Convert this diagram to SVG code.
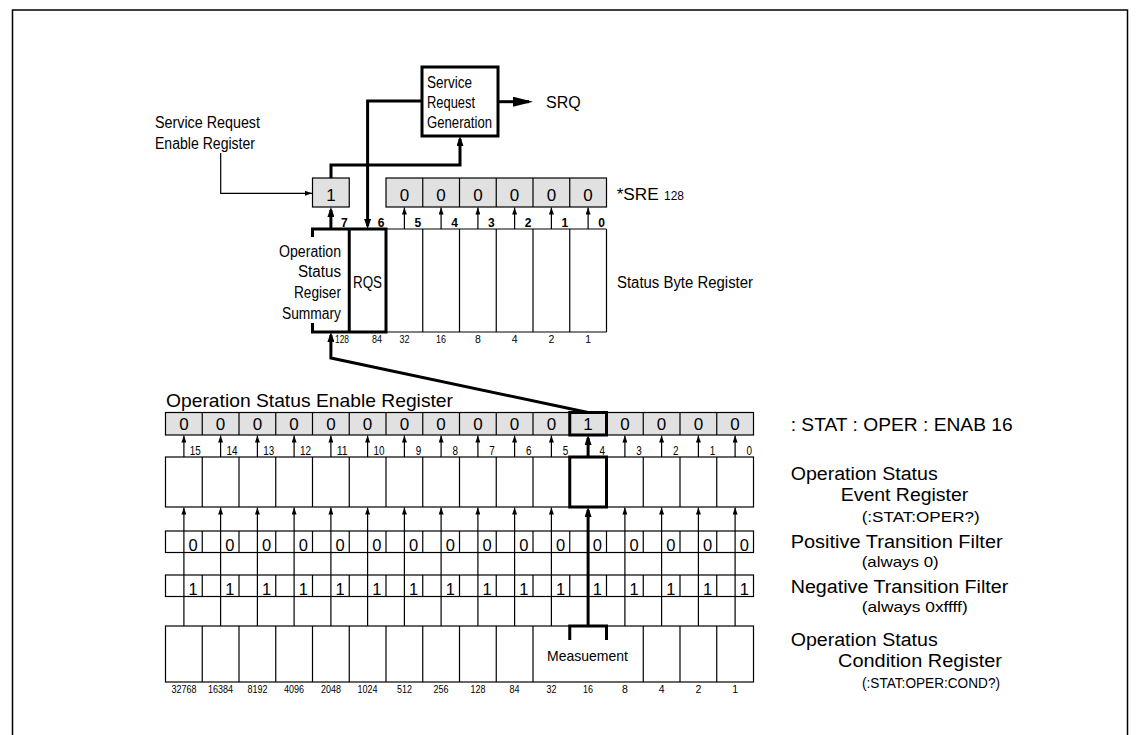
<svg xmlns="http://www.w3.org/2000/svg" width="1140" height="735" viewBox="0 0 1140 735">
<style>
.ln{stroke:#000;stroke-width:1.2;fill:none}
.lnb{stroke:#000;stroke-width:3;fill:none}
.gray{fill:#e1e1e1;stroke:#000;stroke-width:1.2}
.box{fill:#fff;stroke:#000;stroke-width:1.2}
text{font-family:"Liberation Sans",Arial,sans-serif;fill:#000}
.d{font-size:17px;text-anchor:middle}
.fd{font-size:16.5px;text-anchor:middle}
.bl{font-size:12px;font-weight:bold;text-anchor:end}
.el{font-size:13px;text-anchor:end}
.bn{font-size:10.5px;text-anchor:middle}
.lab{font-size:16px}
.rl{font-size:18px}
.rs{font-size:14.5px}
</style>
<defs>
<marker id="a" markerUnits="userSpaceOnUse" markerWidth="7" markerHeight="5" viewBox="0 0 7 5" refX="7" refY="2.5" orient="auto"><path d="M0,0 L7,2.5 L0,5 z" fill="#000"/></marker>
<marker id="ab" markerUnits="userSpaceOnUse" markerWidth="10" markerHeight="7" viewBox="0 0 10 7" refX="7" refY="3.5" orient="auto"><path d="M0,0 L10,3.5 L0,7 z" fill="#000"/></marker>
<marker id="aL" markerUnits="userSpaceOnUse" markerWidth="20" markerHeight="10" viewBox="0 0 20 10" refX="16" refY="5" orient="auto"><path d="M0,0 L20,5 L0,10 z" fill="#000"/></marker>
</defs>
<rect x="0" y="0" width="1140" height="735" fill="#fff"/>
<rect id="frame" x="12.5" y="10" width="1115" height="740" fill="none" stroke="#000" stroke-width="1.5"/>

<g id="srg">
<rect x="422" y="67" width="76" height="69" fill="#fff" stroke="#000" stroke-width="3"/>
<text class="lab" x="427" y="88" textLength="45" lengthAdjust="spacingAndGlyphs">Service</text>
<text class="lab" x="427" y="108" textLength="48" lengthAdjust="spacingAndGlyphs">Request</text>
<text class="lab" x="427" y="128" textLength="65" lengthAdjust="spacingAndGlyphs">Generation</text>
</g>
<g id="srq"><text class="lab" x="546" y="107.5">SRQ</text></g>

<g id="sre-label">
<text class="lab" x="155" y="128" textLength="105" lengthAdjust="spacingAndGlyphs">Service Request</text>
<text class="lab" x="155" y="149" textLength="100" lengthAdjust="spacingAndGlyphs">Enable Register</text>
</g>

<g id="sre">
<rect class="gray" x="312.5" y="178" width="36.75" height="29"/>
<rect class="gray" x="386" y="178" width="220.5" height="29"/>
<path class="ln" d="M422.75,178V207M459.5,178V207M496.25,178V207M533,178V207M569.75,178V207"/>
<text class="d" x="330.9" y="200.5">1</text>
<text class="d" x="404.4" y="200.5">0</text>
<text class="d" x="441.1" y="200.5">0</text>
<text class="d" x="477.9" y="200.5">0</text>
<text class="d" x="514.6" y="200.5">0</text>
<text class="d" x="551.4" y="200.5">0</text>
<text class="d" x="588.1" y="200.5">0</text>
<text class="lab" x="616.7" y="200" textLength="42" lengthAdjust="spacingAndGlyphs">*SRE</text>
<text x="664" y="200" font-size="12" textLength="20" lengthAdjust="spacingAndGlyphs">128</text>
</g>

<g id="status-byte">
<path class="ln" d="M386,229H606.5M386,332H606.5M422.75,229V332M459.5,229V332M496.25,229V332M533,229V332M569.75,229V332M606.5,229V332"/>
<path class="lnb" d="M312.5,237V229H386V332H312.5V323M349.25,229V332"/>
<text class="lab" x="341" y="256.7" text-anchor="end" textLength="62" lengthAdjust="spacingAndGlyphs">Operation</text>
<text class="lab" x="341" y="277" text-anchor="end" textLength="43" lengthAdjust="spacingAndGlyphs">Status</text>
<text class="lab" x="341" y="298" text-anchor="end" textLength="47" lengthAdjust="spacingAndGlyphs">Regiser</text>
<text class="lab" x="341" y="319" text-anchor="end" textLength="59" lengthAdjust="spacingAndGlyphs">Summary</text>
<text class="lab" x="353" y="288" textLength="29" lengthAdjust="spacingAndGlyphs">RQS</text>
<text class="lab" x="617" y="288" textLength="136" lengthAdjust="spacingAndGlyphs">Status Byte Register</text>
<text class="bl" x="347.75" y="227">7</text>
<text class="bl" x="384.5" y="227">6</text>
<text class="bl" x="421.25" y="227">5</text>
<text class="bl" x="458" y="227">4</text>
<text class="bl" x="494.75" y="227">3</text>
<text class="bl" x="531.5" y="227">2</text>
<text class="bl" x="568.25" y="227">1</text>
<text class="bl" x="605" y="227">0</text>
<text x="335" y="343" font-size="10.5" textLength="14" lengthAdjust="spacingAndGlyphs">128</text>
<text class="bn" x="377" y="343" textLength="10" lengthAdjust="spacingAndGlyphs">84</text>
<text class="bn" x="404.4" y="343" textLength="10" lengthAdjust="spacingAndGlyphs">32</text>
<text class="bn" x="441.1" y="343" textLength="10" lengthAdjust="spacingAndGlyphs">16</text>
<text class="bn" x="477.9" y="343">8</text>
<text class="bn" x="514.6" y="343">4</text>
<text class="bn" x="551.4" y="343">2</text>
<text class="bn" x="588.1" y="343">1</text>
</g>

<g id="enable">
<text x="166" y="406.7" font-size="19" textLength="287" lengthAdjust="spacingAndGlyphs">Operation Status Enable Register</text>
<rect class="gray" x="165.5" y="412.5" width="588" height="22.5"/>
<path class="ln" d="M202.25,412.5V435M239,412.5V435M275.75,412.5V435M312.5,412.5V435M349.25,412.5V435M386,412.5V435M422.75,412.5V435M459.5,412.5V435M496.25,412.5V435M533,412.5V435M569.75,412.5V435M606.5,412.5V435M643.25,412.5V435M680,412.5V435M716.75,412.5V435"/>
<rect x="569.75" y="412.5" width="36.75" height="22.5" fill="none" stroke="#000" stroke-width="3"/>
<text class="d" x="183.9" y="430">0</text>
<text class="d" x="220.6" y="430">0</text>
<text class="d" x="257.4" y="430">0</text>
<text class="d" x="294.1" y="430">0</text>
<text class="d" x="330.9" y="430">0</text>
<text class="d" x="367.6" y="430">0</text>
<text class="d" x="404.4" y="430">0</text>
<text class="d" x="441.1" y="430">0</text>
<text class="d" x="477.9" y="430">0</text>
<text class="d" x="514.6" y="430">0</text>
<text class="d" x="551.4" y="430">0</text>
<text class="d" x="588.1" y="430">1</text>
<text class="d" x="624.9" y="430">0</text>
<text class="d" x="661.6" y="430">0</text>
<text class="d" x="698.4" y="430">0</text>
<text class="d" x="735.1" y="430">0</text>
<text class="el" x="200.75" y="455" textLength="11" lengthAdjust="spacingAndGlyphs">15</text>
<text class="el" x="237.5" y="455" textLength="11" lengthAdjust="spacingAndGlyphs">14</text>
<text class="el" x="274.25" y="455" textLength="11" lengthAdjust="spacingAndGlyphs">13</text>
<text class="el" x="311" y="455" textLength="11" lengthAdjust="spacingAndGlyphs">12</text>
<text class="el" x="347.75" y="455" textLength="11" lengthAdjust="spacingAndGlyphs">11</text>
<text class="el" x="384.5" y="455" textLength="11" lengthAdjust="spacingAndGlyphs">10</text>
<text class="el" x="421.25" y="455" textLength="5.5" lengthAdjust="spacingAndGlyphs">9</text>
<text class="el" x="458" y="455" textLength="5.5" lengthAdjust="spacingAndGlyphs">8</text>
<text class="el" x="494.75" y="455" textLength="5.5" lengthAdjust="spacingAndGlyphs">7</text>
<text class="el" x="531.5" y="455" textLength="5.5" lengthAdjust="spacingAndGlyphs">6</text>
<text class="el" x="568.25" y="455" textLength="5.5" lengthAdjust="spacingAndGlyphs">5</text>
<text class="el" x="605" y="455" textLength="5.5" lengthAdjust="spacingAndGlyphs">4</text>
<text class="el" x="641.75" y="455" textLength="5.5" lengthAdjust="spacingAndGlyphs">3</text>
<text class="el" x="678.5" y="455" textLength="5.5" lengthAdjust="spacingAndGlyphs">2</text>
<text class="el" x="715.25" y="455" textLength="5.5" lengthAdjust="spacingAndGlyphs">1</text>
<text class="el" x="752" y="455" textLength="5.5" lengthAdjust="spacingAndGlyphs">0</text>
<text class="rl" x="790.7" y="430.7" textLength="222" lengthAdjust="spacingAndGlyphs">: STAT : OPER : ENAB 16</text>
</g>

<g id="event">
<rect class="box" x="165.5" y="457" width="588" height="50"/>
<path class="ln" d="M202.25,457V507M239,457V507M275.75,457V507M312.5,457V507M349.25,457V507M386,457V507M422.75,457V507M459.5,457V507M496.25,457V507M533,457V507M569.75,457V507M606.5,457V507M643.25,457V507M680,457V507M716.75,457V507"/>
<rect x="569.75" y="457" width="36.75" height="50" fill="none" stroke="#000" stroke-width="3"/>
<text class="rl" x="790.7" y="480" textLength="147" lengthAdjust="spacingAndGlyphs">Operation Status</text>
<text class="rl" x="840.7" y="500.7" textLength="127.6" lengthAdjust="spacingAndGlyphs">Event Register</text>
<text class="rs" x="861.7" y="521.7" textLength="118" lengthAdjust="spacingAndGlyphs">(:STAT:OPER?)</text>
</g>

<g id="ptf">
<rect class="box" x="165.5" y="531" width="588" height="21.5"/>
<path class="ln" d="M202.25,531V552.5M239,531V552.5M275.75,531V552.5M312.5,531V552.5M349.25,531V552.5M386,531V552.5M422.75,531V552.5M459.5,531V552.5M496.25,531V552.5M533,531V552.5M569.75,531V552.5M606.5,531V552.5M643.25,531V552.5M680,531V552.5M716.75,531V552.5"/>
<text class="fd" x="193.1" y="550.5">0</text>
<text class="fd" x="229.8" y="550.5">0</text>
<text class="fd" x="266.6" y="550.5">0</text>
<text class="fd" x="303.3" y="550.5">0</text>
<text class="fd" x="340.1" y="550.5">0</text>
<text class="fd" x="376.8" y="550.5">0</text>
<text class="fd" x="413.6" y="550.5">0</text>
<text class="fd" x="450.3" y="550.5">0</text>
<text class="fd" x="487.1" y="550.5">0</text>
<text class="fd" x="523.8" y="550.5">0</text>
<text class="fd" x="560.6" y="550.5">0</text>
<text class="fd" x="597.3" y="550.5">0</text>
<text class="fd" x="634.1" y="550.5">0</text>
<text class="fd" x="670.8" y="550.5">0</text>
<text class="fd" x="707.6" y="550.5">0</text>
<text class="fd" x="744.3" y="550.5">0</text>
<text class="rl" x="790.7" y="548.3" textLength="212" lengthAdjust="spacingAndGlyphs">Positive Transition Filter</text>
<text class="rs" x="861.7" y="566.7" textLength="77" lengthAdjust="spacingAndGlyphs">(always 0)</text>
</g>

<g id="ntf">
<rect class="box" x="165.5" y="575" width="588" height="21.5"/>
<path class="ln" d="M202.25,575V596.5M239,575V596.5M275.75,575V596.5M312.5,575V596.5M349.25,575V596.5M386,575V596.5M422.75,575V596.5M459.5,575V596.5M496.25,575V596.5M533,575V596.5M569.75,575V596.5M606.5,575V596.5M643.25,575V596.5M680,575V596.5M716.75,575V596.5"/>
<text class="fd" x="193.1" y="594.5">1</text>
<text class="fd" x="229.8" y="594.5">1</text>
<text class="fd" x="266.6" y="594.5">1</text>
<text class="fd" x="303.3" y="594.5">1</text>
<text class="fd" x="340.1" y="594.5">1</text>
<text class="fd" x="376.8" y="594.5">1</text>
<text class="fd" x="413.6" y="594.5">1</text>
<text class="fd" x="450.3" y="594.5">1</text>
<text class="fd" x="487.1" y="594.5">1</text>
<text class="fd" x="523.8" y="594.5">1</text>
<text class="fd" x="560.6" y="594.5">1</text>
<text class="fd" x="597.3" y="594.5">1</text>
<text class="fd" x="634.1" y="594.5">1</text>
<text class="fd" x="670.8" y="594.5">1</text>
<text class="fd" x="707.6" y="594.5">1</text>
<text class="fd" x="744.3" y="594.5">1</text>
<text class="rl" x="790.7" y="593.3" textLength="217.6" lengthAdjust="spacingAndGlyphs">Negative Transition Filter</text>
<text class="rs" x="861.7" y="611.5" textLength="106" lengthAdjust="spacingAndGlyphs">(always 0xffff)</text>
</g>

<g id="condition">
<rect class="box" x="165.5" y="626" width="588" height="56"/>
<path class="ln" d="M202.25,626V682M239,626V682M275.75,626V682M312.5,626V682M349.25,626V682M386,626V682M422.75,626V682M459.5,626V682M496.25,626V682M533,626V682M643.25,626V682M680,626V682M716.75,626V682"/>
<path class="lnb" d="M569.75,640V626H606.5V640"/>
<text x="547" y="661" font-size="15" textLength="81" lengthAdjust="spacingAndGlyphs">Measuement</text>
<text class="bn" x="183.9" y="692.5" textLength="25" lengthAdjust="spacingAndGlyphs">32768</text>
<text class="bn" x="220.6" y="692.5" textLength="25" lengthAdjust="spacingAndGlyphs">16384</text>
<text class="bn" x="257.4" y="692.5" textLength="20" lengthAdjust="spacingAndGlyphs">8192</text>
<text class="bn" x="294.1" y="692.5" textLength="20" lengthAdjust="spacingAndGlyphs">4096</text>
<text class="bn" x="330.9" y="692.5" textLength="20" lengthAdjust="spacingAndGlyphs">2048</text>
<text class="bn" x="367.6" y="692.5" textLength="20" lengthAdjust="spacingAndGlyphs">1024</text>
<text class="bn" x="404.4" y="692.5" textLength="15" lengthAdjust="spacingAndGlyphs">512</text>
<text class="bn" x="441.1" y="692.5" textLength="15" lengthAdjust="spacingAndGlyphs">256</text>
<text class="bn" x="477.9" y="692.5" textLength="15" lengthAdjust="spacingAndGlyphs">128</text>
<text class="bn" x="514.6" y="692.5" textLength="10" lengthAdjust="spacingAndGlyphs">84</text>
<text class="bn" x="551.4" y="692.5" textLength="10" lengthAdjust="spacingAndGlyphs">32</text>
<text class="bn" x="588.1" y="692.5" textLength="10" lengthAdjust="spacingAndGlyphs">16</text>
<text class="bn" x="624.9" y="692.5">8</text>
<text class="bn" x="661.6" y="692.5">4</text>
<text class="bn" x="698.4" y="692.5">2</text>
<text class="bn" x="735.1" y="692.5">1</text>
<text class="rl" x="790.7" y="646" textLength="147" lengthAdjust="spacingAndGlyphs">Operation Status</text>
<text class="rl" x="838" y="667" textLength="164" lengthAdjust="spacingAndGlyphs">Condition Register</text>
<text class="rs" x="862" y="687.5" textLength="138" lengthAdjust="spacingAndGlyphs">(:STAT:OPER:COND?)</text>
</g>

<g id="connectors">
<path class="lnb" d="M498,101.7H529" marker-end="url(#aL)"/>
<path class="lnb" d="M422,101H367.6V226" marker-end="url(#ab)"/>
<path class="lnb" d="M331,178V165H460V139" marker-end="url(#ab)"/>
<path class="ln" d="M220.7,153V193.3H312" marker-end="url(#a)"/>
<path class="lnb" d="M588.1,412.5L330.9,358V335" marker-end="url(#ab)"/>
<path class="lnb" d="M330.9,229V210" marker-end="url(#ab)"/>
<g class="ln">
<path d="M404.4,229V207.5" marker-end="url(#a)"/>
<path d="M441.1,229V207.5" marker-end="url(#a)"/>
<path d="M477.9,229V207.5" marker-end="url(#a)"/>
<path d="M514.6,229V207.5" marker-end="url(#a)"/>
<path d="M551.4,229V207.5" marker-end="url(#a)"/>
<path d="M588.1,229V207.5" marker-end="url(#a)"/>
</g>
<g class="ln">
<path d="M183.9,457V435.5" marker-end="url(#a)"/>
<path d="M220.6,457V435.5" marker-end="url(#a)"/>
<path d="M257.4,457V435.5" marker-end="url(#a)"/>
<path d="M294.1,457V435.5" marker-end="url(#a)"/>
<path d="M330.9,457V435.5" marker-end="url(#a)"/>
<path d="M367.6,457V435.5" marker-end="url(#a)"/>
<path d="M404.4,457V435.5" marker-end="url(#a)"/>
<path d="M441.1,457V435.5" marker-end="url(#a)"/>
<path d="M477.9,457V435.5" marker-end="url(#a)"/>
<path d="M514.6,457V435.5" marker-end="url(#a)"/>
<path d="M551.4,457V435.5" marker-end="url(#a)"/>
<path d="M624.9,457V435.5" marker-end="url(#a)"/>
<path d="M661.6,457V435.5" marker-end="url(#a)"/>
<path d="M698.4,457V435.5" marker-end="url(#a)"/>
<path d="M735.1,457V435.5" marker-end="url(#a)"/>
</g>
<path class="lnb" d="M588.1,457V438" marker-end="url(#ab)"/>
<g class="ln">
<path d="M183.9,626V507.5" marker-end="url(#a)"/>
<path d="M220.6,626V507.5" marker-end="url(#a)"/>
<path d="M257.4,626V507.5" marker-end="url(#a)"/>
<path d="M294.1,626V507.5" marker-end="url(#a)"/>
<path d="M330.9,626V507.5" marker-end="url(#a)"/>
<path d="M367.6,626V507.5" marker-end="url(#a)"/>
<path d="M404.4,626V507.5" marker-end="url(#a)"/>
<path d="M441.1,626V507.5" marker-end="url(#a)"/>
<path d="M477.9,626V507.5" marker-end="url(#a)"/>
<path d="M514.6,626V507.5" marker-end="url(#a)"/>
<path d="M551.4,626V507.5" marker-end="url(#a)"/>
<path d="M624.9,626V507.5" marker-end="url(#a)"/>
<path d="M661.6,626V507.5" marker-end="url(#a)"/>
<path d="M698.4,626V507.5" marker-end="url(#a)"/>
<path d="M735.1,626V507.5" marker-end="url(#a)"/>
</g>
<path class="lnb" d="M588.1,626V510" marker-end="url(#ab)"/>
</g>
</svg>
